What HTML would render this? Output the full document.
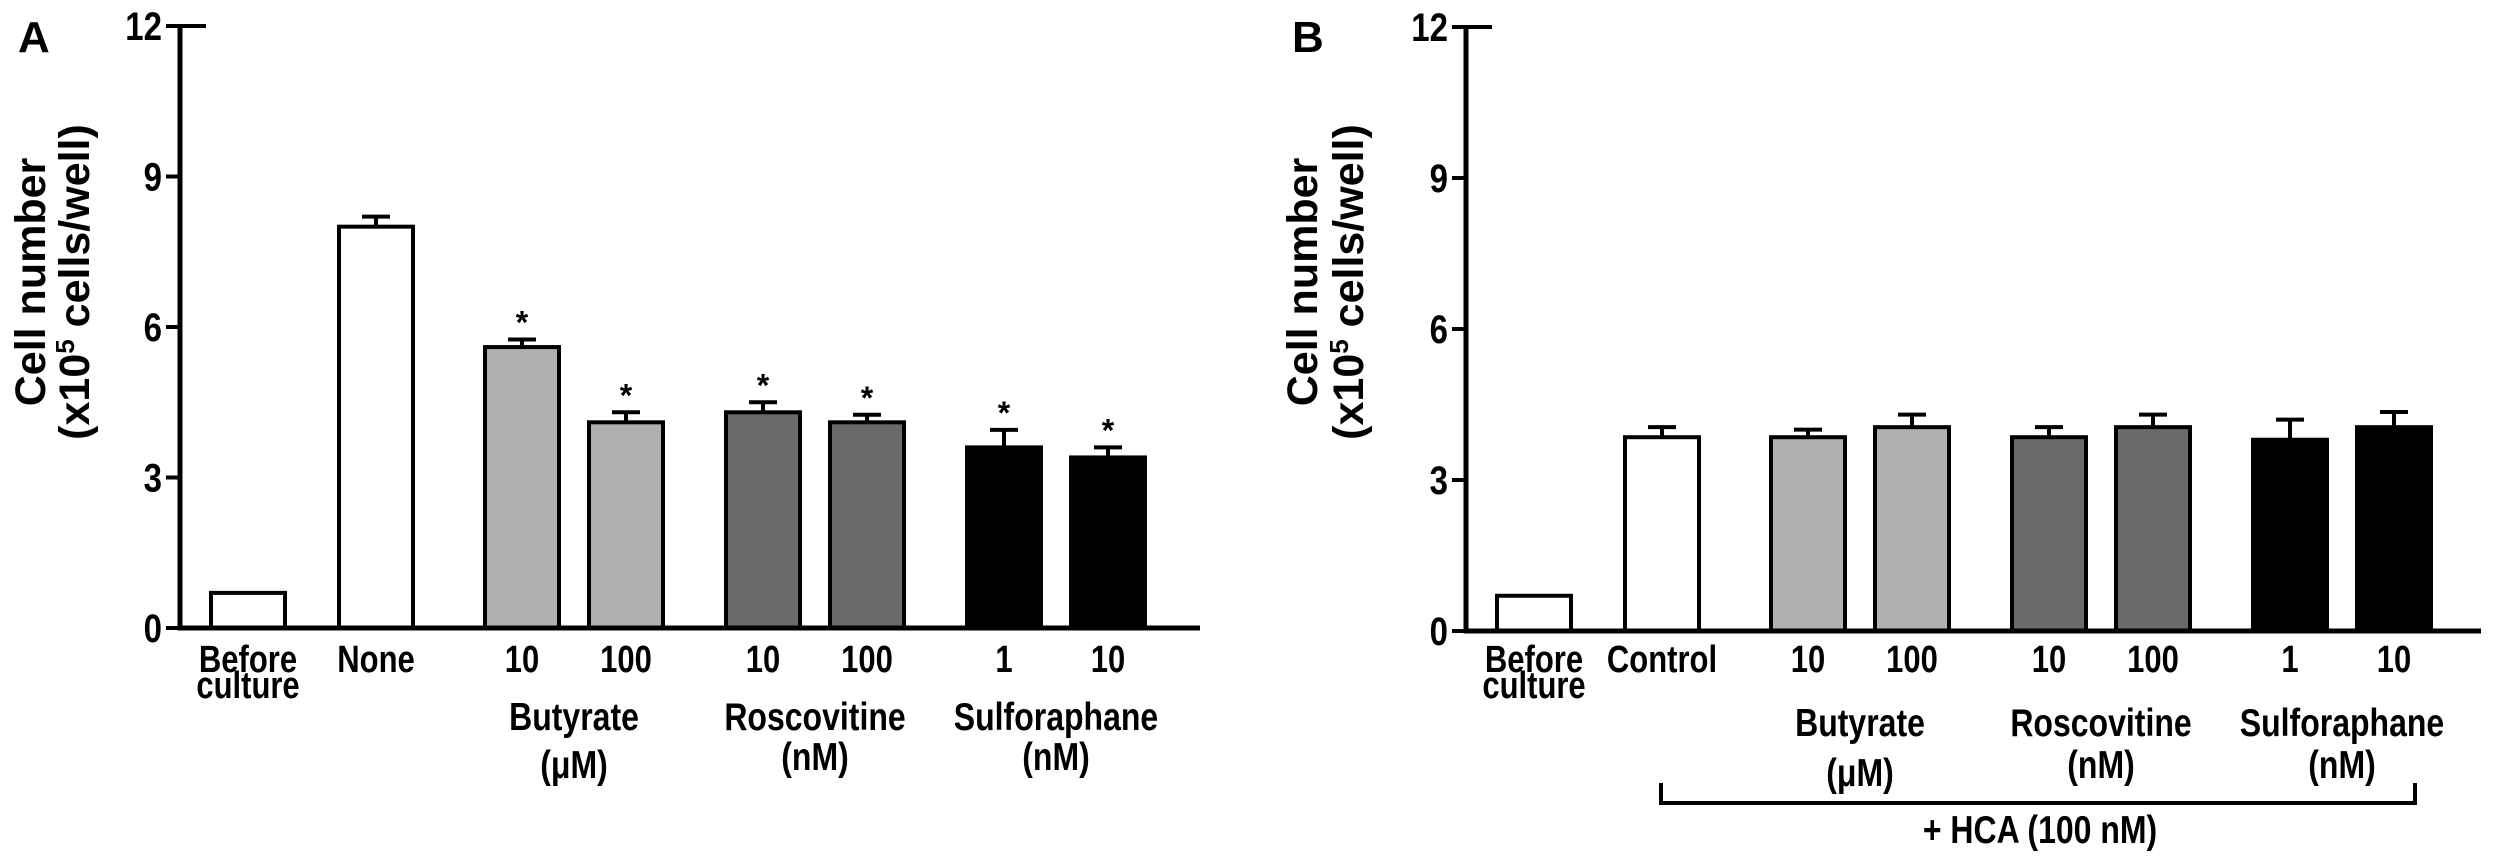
<!DOCTYPE html>
<html><head><meta charset="utf-8"><style>
html,body{margin:0;padding:0;background:#fff;}
svg{display:block;}
text{font-family:"Liberation Sans Narrow","Liberation Sans",sans-serif;font-weight:bold;fill:#000;}
.t{font-family:"Liberation Sans",sans-serif;}
</style></head><body>
<svg id="chart" width="2502" height="864" viewBox="0 0 2502 864" xmlns="http://www.w3.org/2000/svg">
<text class="t" x="18" y="52" font-size="44">A</text>
<text class="t" x="1292" y="52" font-size="44">B</text>
<g transform="translate(30,282) rotate(-90)"><text class="t" x="0" y="15" text-anchor="middle" font-size="43">Cell number</text></g>
<g transform="translate(74,282) rotate(-90)"><text class="t" x="0" y="15" text-anchor="middle" font-size="43">(x10<tspan font-size="26" dy="-15">5</tspan><tspan dy="15"> cells/well)</tspan></text></g>
<g transform="translate(1302,282) rotate(-90)"><text class="t" x="0" y="15" text-anchor="middle" font-size="43">Cell number</text></g>
<g transform="translate(1348,282) rotate(-90)"><text class="t" x="0" y="15" text-anchor="middle" font-size="43">(x10<tspan font-size="26" dy="-15">5</tspan><tspan dy="15"> cells/well)</tspan></text></g>
</svg>
<script>
const yTicks = [0, 3, 6, 9, 12];
const groupIdx = [0, 1, 2, 2, 3, 3, 4, 4];
const fills = ['#fff', '#fff', '#b0b0b0', '#b0b0b0', '#6a6a6a', '#6a6a6a', '#000', '#000'];
const catLabelsA = ['Before|culture', 'None', '10', '100', '10', '100', '1', '10'];
const catLabelsB = ['Before|culture', 'Control', '10', '100', '10', '100', '1', '10'];
const groupNames = ['Butyrate|(μM)', 'Roscovitine|(nM)', 'Sulforaphane|(nM)'];
const valuesA = [0.7, 8.0, 5.6, 4.1, 4.3, 4.1, 3.6, 3.4];
const errorsA = [0, 0.2, 0.15, 0.2, 0.2, 0.15, 0.35, 0.2];
const starsA = [false, false, true, true, true, true, true, true];
const valuesB = [0.7, 3.85, 3.85, 4.05, 3.85, 4.05, 3.8, 4.05];
const errorsB = [0, 0.2, 0.15, 0.25, 0.2, 0.25, 0.4, 0.3];
const starsB = [false, false, false, false, false, false, false, false];

const svg = document.getElementById('chart');
const NS = 'http://www.w3.org/2000/svg';
function mk(tag, attrs, parent) {
  const e = document.createElementNS(NS, tag);
  for (const k in attrs) e.setAttribute(k, attrs[k]);
  (parent || svg).appendChild(e);
  return e;
}
function txt(parent, str, x, y, size, anchor) {
  const t = mk('text', {x: 0, y: 0, 'text-anchor': anchor, 'font-size': size,
    transform: `translate(${x},${y}) scale(1,1.22)`}, parent);
  t.textContent = str;
  return t;
}
function panel(p, axisX, y0, y12, xEnd, base, cats, vals, errs, stars, gy1, gy2) {
  const g = mk('g', {});
  
  
  const y = v => y0 - (y0 - y12) * v / 12;
  const x = i => base + i * 104 + groupIdx[i] * 33 - (groupIdx[i] === 1 ? 9 : 0);
  const bw = 74;
  yTicks.forEach(t => {
    const tk = mk('line', {x1: axisX - 14, x2: t === 12 ? axisX + 26 : axisX, y1: y(t), y2: y(t), stroke: '#000', 'stroke-width': 4}, g);
    
    
    const tl = txt(g, String(t), axisX - 18, y(t) + 14, 33, 'end');
    
    
  });
  vals.forEach((v, i) => {
    const cx = x(i);
    if (errs[i] > 0) {
      const eb = mk('path', {d: `M${cx} ${y(v)}V${y(v + errs[i])}M${cx - 14} ${y(v + errs[i])}H${cx + 14}`, stroke: '#000', 'stroke-width': 4, fill: 'none'}, g);
      
      
    }
    const r = mk('rect', {x: cx - bw / 2, y: y(v), width: bw, height: y0 - y(v), fill: fills[i], stroke: '#000', 'stroke-width': 4}, g);
    
    
    if (stars[i]) {
      const s = mk('text', {x: cx, y: y(v + errs[i]) - 6, 'text-anchor': 'middle', 'font-size': 32}, g);
      s.textContent = '*';
      
      
    }
    const parts = cats[i].split('|');
    parts.forEach((pt, k) => {
      const t = txt(g, pt, cx, 672 + k * 26, 31, 'middle');
      
      
    });
  });
  groupNames.forEach((gn, k) => {
    const cx = (x(2 + 2 * k) + x(3 + 2 * k)) / 2;
    const parts = gn.split('|');
    const t1 = txt(g, parts[0], cx, gy1, 32, 'middle');
    
    
    const t2 = txt(g, parts[1], cx, gy1 + (k === 0 ? gy2 : gy2 - 8), 32, 'middle');
    
    
  });
  const ax = mk('path', {d: `M${axisX} ${y12}V${y0}H${xEnd}`, stroke: '#000', 'stroke-width': 5, fill: 'none'}, g);
  
  
}
panel('a', 180, 628, 26, 1200, 248, catLabelsA, valuesA, errorsA, starsA, 730, 48);
panel('b', 1466, 631, 27, 2481, 1534, catLabelsB, valuesB, errorsB, starsB, 736, 50);
const br = mk('path', {d: 'M1661 783V803H2415V783', stroke: '#000', 'stroke-width': 4, fill: 'none'});


const hl = txt(svg, '+ HCA (100 nM)', 2040, 843, 32, 'middle');


</script>
</body></html>
